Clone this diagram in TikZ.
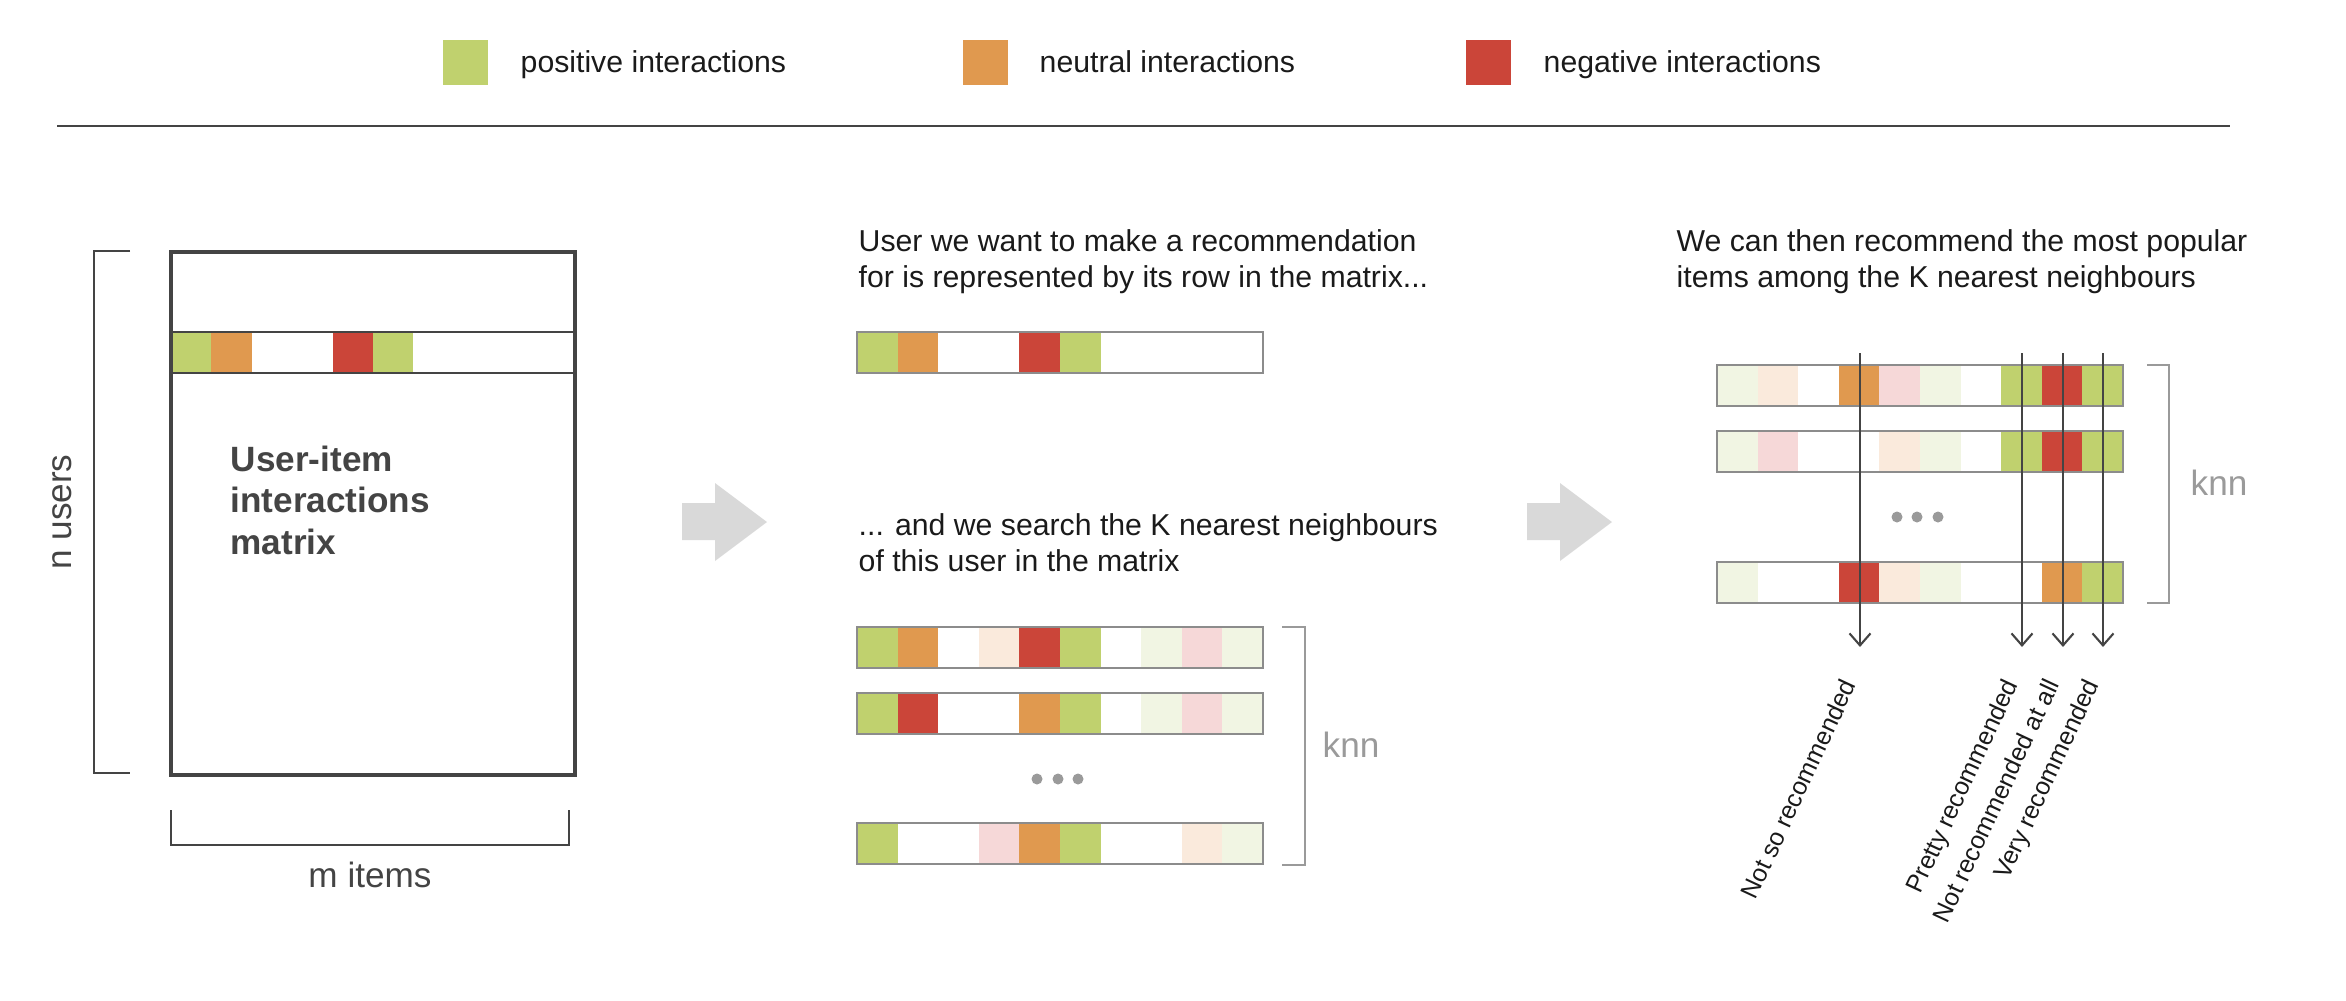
\documentclass[tikz,border=0pt]{standalone}
\usepackage{fontspec}
\setmainfont{Liberation Sans}
\usepackage{tikz}
\usetikzlibrary{arrows.meta,positioning}
\definecolor{ink}{HTML}{1A1A1A}
\definecolor{dark}{HTML}{444444}
\definecolor{rim}{HTML}{8C8C8C}
\definecolor{faint}{HTML}{9A9A9A}
\definecolor{flow}{HTML}{D9D9D9}
\definecolor{cpos}{HTML}{C0D16E}
\definecolor{cneu}{HTML}{E0994F}
\definecolor{cneg}{HTML}{CB4539}
\definecolor{lpos}{HTML}{F1F5E3}
\definecolor{lneu}{HTML}{FAEADC}
\definecolor{lneg}{HTML}{F6D8D8}
\tikzset{
  lab/.style={text=ink, font=\fontsize{8.6}{10.2}\selectfont, inner sep=0pt, align=left},
  big/.style={text=dark, font=\fontsize{10}{12}\selectfont, inner sep=0pt},
  title/.style={text=dark, font=\fontsize{10}{11.7}\selectfont\bfseries, inner sep=0pt, align=left},
  knnlab/.style={text=faint, font=\fontsize{10}{12}\selectfont, inner sep=0pt},
  tilt/.style={text=ink, font=\fontsize{7.1}{9}\selectfont, rotate=65, anchor=base east, inner sep=0pt},
  swatch/.style={minimum size=4.5mm, inner sep=0pt},
  rowbox/.style={draw=rim, line width=0.6pt},
  brace/.style={draw=dark, line width=0.55pt},
  kbrace/.style={draw=faint, line width=0.6pt},
  pick/.style={draw=dark, line width=0.6pt, -{Straight Barb[length=1.2mm, width=2.1mm]}}
}

\begin{document}
\begin{tikzpicture}[x=0.1mm, y=-0.1mm]
  \useasboundingbox (0,0) rectangle (2346,1000);

  % Legend
  \node[swatch, fill=cpos] (kpos) at (465,62) {};
  \node[lab, anchor=base west] (tpos) at (520,72) {positive interactions};
  \node[swatch, fill=cneu] (kneu) at (985,62) {};
  \node[lab, anchor=base west] (tneu) at (1039,72) {neutral interactions};
  \node[swatch, fill=cneg] (kneg) at (1488,62) {};
  \node[lab, anchor=base west] (tneg) at (1543,72) {negative interactions};
  \draw[dark, line width=0.6pt] (57,126) -- (2230,126);

  % Matrix
  \foreach \c [count=\i from 0] in {cpos,cneu,white,white,cneg,cpos}
    \fill[fill=\c] (171+40.4*\i,332) rectangle ++(40.4,41);
  \draw[dark, line width=0.55pt] (171,332) -- (575,332) (171,373) -- (575,373);
  \draw[dark, line width=1.1pt] (171,252) rectangle (575,775);
  \node[title, anchor=base west] (mat) at (230,554) {User-item\\interactions\\matrix};
  \draw[brace] (130,251) -- (94,251) -- (94,773) -- (130,773);
  \node[big, rotate=90] (nusers) at (62,512) {n users};
  \draw[brace] (171,810) -- (171,845) -- (569,845) -- (569,810);
  \node[big, anchor=base] (mitems) at (370,887) {m items};

  % Arrows
  \foreach \dx in {0,845}
    \fill[flow] (682+\dx,503) -- (715+\dx,503) -- (715+\dx,483) -- (767+\dx,522)
      -- (715+\dx,561) -- (715+\dx,540) -- (682+\dx,540) -- cycle;

  % User row
  \node[lab, anchor=base west] (quser) at (858,287) {User we want to make a recommendation\\for is represented by its row in the matrix...};
  \foreach \c [count=\i from 0] in {cpos,cneu,white,white,cneg,cpos}
    \fill[fill=\c] (857+40.6*\i,332) rectangle ++(40.6,41);
  \draw[rowbox] (857,332) rectangle ++(406,41);

  % Neighbours
  \node[lab, anchor=base west] (qknn) at (858,571) {... and we search the K nearest neighbours\\of this user in the matrix};
  \foreach \c [count=\i from 0] in {cpos,cneu,white,lneu,cneg,cpos,white,lpos,lneg,lpos}
    \fill[fill=\c] (857+40.6*\i,627) rectangle ++(40.6,41);
  \foreach \c [count=\i from 0] in {cpos,cneg,white,white,cneu,cpos,white,lpos,lneg,lpos}
    \fill[fill=\c] (857+40.6*\i,693) rectangle ++(40.6,41);
  \foreach \c [count=\i from 0] in {cpos,white,white,lneg,cneu,cpos,white,white,lneu,lpos}
    \fill[fill=\c] (857+40.6*\i,823) rectangle ++(40.6,41);
  \foreach \y in {627,693,823}
    \draw[rowbox] (857,\y) rectangle ++(406,41);
  \foreach \x in {1037,1058,1078}
    \fill[faint] (\x,779) circle[radius=0.55mm];
  \draw[kbrace] (1282,627) -- (1305,627) -- (1305,865) -- (1282,865);
  \node[knnlab, anchor=base west] (kmid) at (1322,757) {knn};

  % Recommendation
  \node[lab, anchor=base west] (qrec) at (1676,287) {We can then recommend the most popular\\items among the K nearest neighbours};
  \foreach \c [count=\i from 0] in {lpos,lneu,white,cneu,lneg,lpos,white,cpos,cneg,cpos}
    \fill[fill=\c] (1717+40.6*\i,365) rectangle ++(40.6,41);
  \foreach \c [count=\i from 0] in {lpos,lneg,white,white,lneu,lpos,white,cpos,cneg,cpos}
    \fill[fill=\c] (1717+40.6*\i,431) rectangle ++(40.6,41);
  \foreach \c [count=\i from 0] in {lpos,white,white,cneg,lneu,lpos,white,white,cneu,cpos}
    \fill[fill=\c] (1717+40.6*\i,562) rectangle ++(40.6,41);
  \foreach \y in {365,431,562}
    \draw[rowbox] (1717,\y) rectangle ++(406,41);
  \foreach \x in {1897,1917,1938}
    \fill[faint] (\x,517) circle[radius=0.55mm];
  \draw[kbrace] (2147,365) -- (2169,365) -- (2169,603) -- (2147,603);
  \node[knnlab, anchor=base west] (kright) at (2190,495) {knn};

  \foreach \n/\x in {a/1860,b/2022,c/2063,d/2103} {
    \coordinate (top\n) at (\x,353);
    \coordinate (end\n) at (\x,647);
    \draw[pick] (top\n) -- (end\n);
  }
  \node[tilt] (ra) at (1857,684) {Not so recommended};
  \node[tilt] (rb) at (2019,684) {Pretty recommended};
  \node[tilt] (rc) at (2060,684) {Not recommended at all};
  \node[tilt] (rd) at (2100,684) {Very recommended};
\end{tikzpicture}
\end{document}
